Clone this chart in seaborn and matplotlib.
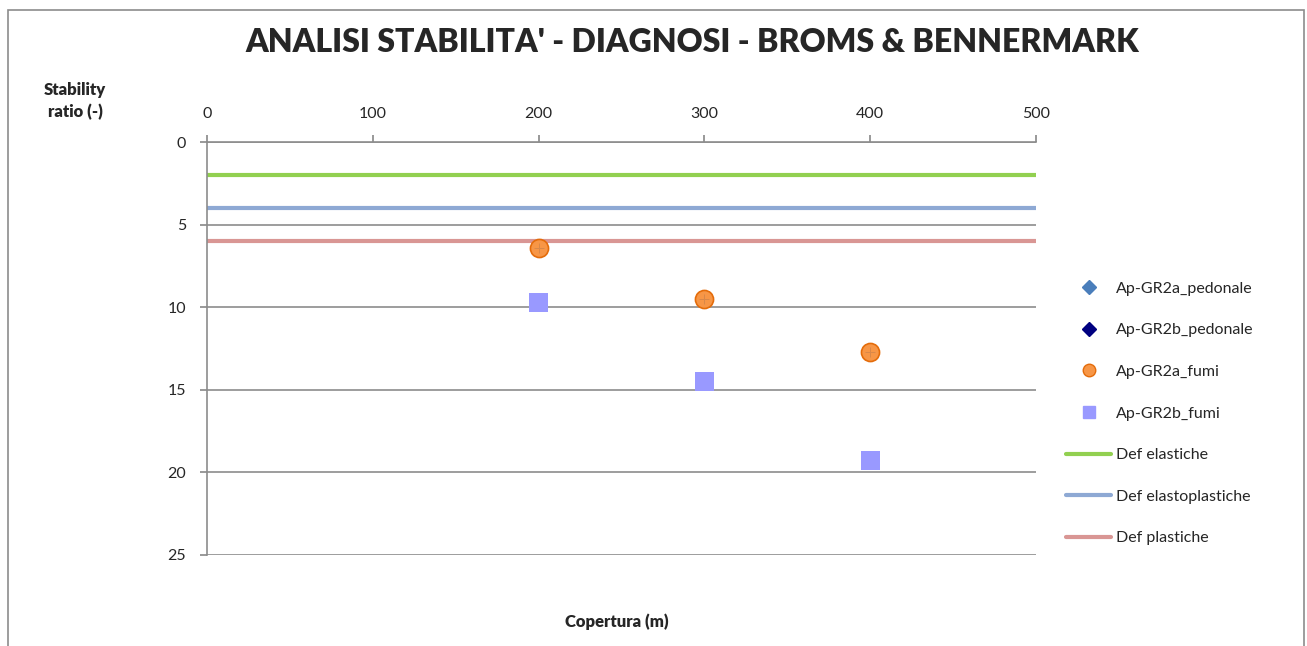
import matplotlib
matplotlib.use("Agg")
import matplotlib.pyplot as plt
import seaborn as sns
import pandas as pd
from matplotlib.patches import Rectangle
from matplotlib.lines import Line2D

# ---- data ----
copertura = [200, 300, 400]
gr2a_pedonale = [6.4, 9.5, 12.7]
gr2b_pedonale = [9.7, 14.5, 19.3]
gr2a_fumi = [6.4, 9.5, 12.7]
gr2b_fumi = [9.7, 14.5, 19.3]
limit_x = [0, 500]
def_elastiche = [2, 2]
def_elastoplastiche = [4, 4]
def_plastiche = [6, 6]
x_ticks = [0, 100, 200, 300, 400, 500]
y_ticks = [0, 5, 10, 15, 20, 25]

sns.set_theme(style="white")
plt.rcParams['font.family'] = ['Lato', 'DejaVu Sans']

fig = plt.figure(figsize=(13.07, 6.46), dpi=100)
ax = fig.add_axes([207/1307, 1-555/646, (1036-207)/1307, (555-142)/646])

# border of chart area
fig.patches.append(Rectangle((8/1307, -0.01), (1304-8)/1307, 1-10/646+0.01,
                             transform=fig.transFigure, fill=False,
                             edgecolor="#8c8c8c", linewidth=1.2))

df_lines = pd.DataFrame({
    "x": limit_x * 3,
    "y": def_elastiche + def_elastoplastiche + def_plastiche,
    "s": ["Def elastiche"] * 2 + ["Def elastoplastiche"] * 2 + ["Def plastiche"] * 2,
})
line_colors = {"Def elastiche": "#92D050", "Def elastoplastiche": "#8EA9D4",
               "Def plastiche": "#D99694"}
sns.lineplot(data=df_lines, x="x", y="y", hue="s", palette=line_colors,
             linewidth=3, ax=ax, legend=False, zorder=2)

pts = pd.DataFrame({"x": copertura, "a_p": gr2a_pedonale, "b_p": gr2b_pedonale,
                    "a_f": gr2a_fumi, "b_f": gr2b_fumi})
sns.scatterplot(data=pts, x="x", y="a_p", marker="D", color="#4A7EBB", s=60,
                ax=ax, zorder=3, edgecolor="none")
sns.scatterplot(data=pts, x="x", y="b_p", marker="D", color="#000080", s=60,
                ax=ax, zorder=3, edgecolor="none")
sns.scatterplot(data=pts, x="x", y="a_f", marker="o", color="#F79646", s=170,
                ax=ax, zorder=4, edgecolor="#E46C0A", linewidth=1.2)
sns.scatterplot(data=pts, x="x", y="a_f", marker="+", color="#D9884A", s=60,
                ax=ax, zorder=5, linewidth=0.7)
sns.scatterplot(data=pts, x="x", y="b_f", marker="s", color="#9999FF", s=190,
                ax=ax, zorder=4, edgecolor="none")

ax.set_xlim(0, 500)
ax.set_ylim(25, 0)
ax.xaxis.tick_top()
ax.set_xticks(x_ticks)
ax.set_yticks(y_ticks)
ax.set_xticklabels([str(v) for v in x_ticks], fontsize=11.5)
ax.set_yticklabels([str(v) for v in y_ticks], fontsize=11.5)
ax.tick_params(axis="x", direction="out", length=5, color="#8c8c8c", pad=10, top=True, bottom=False)
ax.tick_params(axis="y", direction="out", length=5, color="#8c8c8c", pad=10, left=True)
ax.yaxis.grid(True, color="#8c8c8c", linewidth=1.2)
ax.xaxis.grid(False)
for side in ["right", "bottom"]:
    ax.spines[side].set_visible(False)
for side in ["left", "top"]:
    ax.spines[side].set_color("#8c8c8c")
    ax.spines[side].set_linewidth(1.2)
ax.set_xlabel("")
ax.set_ylabel("")

fig.text(692/1307, 1-42/646, "ANALISI STABILITA' - DIAGNOSI - BROMS & BENNERMARK",
         ha="center", va="center", fontsize=23, fontweight="heavy")
fig.text(75/1307, 1-101/646, "Stability\nratio (-)", ha="center", va="center",
         fontsize=12, fontweight="heavy", linespacing=1.4)
fig.text(617/1307, 1-622/646, "Copertura (m)", ha="center", va="center",
         fontsize=12, fontweight="heavy")

handles = [
    Line2D([], [], marker="D", color="#4A7EBB", linestyle="none", markersize=7),
    Line2D([], [], marker="D", color="#000080", linestyle="none", markersize=7),
    Line2D([], [], marker="o", color="#F79646", markeredgecolor="#E46C0A", linestyle="none", markersize=9),
    Line2D([], [], marker="s", color="#9999FF", linestyle="none", markersize=8),
    Line2D([], [], color="#92D050", linewidth=3),
    Line2D([], [], color="#8EA9D4", linewidth=3),
    Line2D([], [], color="#D99694", linewidth=3),
]
labels = ["Ap-GR2a_pedonale", "Ap-GR2b_pedonale", "Ap-GR2a_fumi", "Ap-GR2b_fumi",
          "Def elastiche", "Def elastoplastiche", "Def plastiche"]
fig.legend(handles, labels, loc="upper left", bbox_to_anchor=(1052/1307, 1-267/646),
           frameon=False, fontsize=11.5, labelspacing=1.72, handlelength=2.8,
           handletextpad=0.3)

fig.savefig("out.png", dpi=100)
